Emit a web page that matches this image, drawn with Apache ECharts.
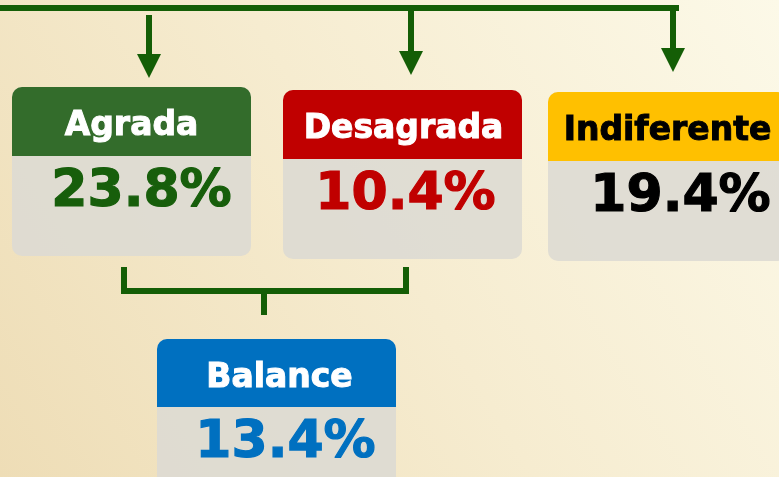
<!DOCTYPE html>
<html>
<head>
<meta charset="utf-8">
<script src="https://cdn.jsdelivr.net/npm/echarts@6/dist/echarts.min.js"></script>
<style>
  html, body { margin: 0; padding: 0; }
  #main { width: 779px; height: 477px; }
</style>
</head>
<body>
<div id="main"></div>
<script>
// data
var categories = ['Agrada', 'Desagrada', 'Indiferente', 'Balance'];
var shares = [23.8, 10.4, 19.4, 13.4];

// look of each card
var headColors = ['#336C2B', '#C00000', '#FFC000', '#0070C0'];
var titleColors = ['#FFFFFF', '#FFFFFF', '#000000', '#FFFFFF'];
var valueColors = ['#175E0B', '#C00000', '#000000', '#0070C0'];

// card placement (x, y, width, header height, body height, text offsets)
var cardLayout = [
  { x: 12, y: 87, w: 239, head: 69, body: 100, tdx: 0, vdx: 10 },
  { x: 283, y: 90, w: 239, head: 69, body: 100, tdx: 1, vdx: 3 },
  { x: 548, y: 92, w: 239, head: 69, body: 100, tdx: 0, vdx: 13 },
  { x: 157, y: 339, w: 239, head: 68, body: 110, tdx: 3, vdx: 9 }
];

// connector drawing: polylines and arrows
var lineGreen = '#145E06';
var connectors = [
  { type: 'line', pts: [[0, 8], [679, 8]] },
  { type: 'arrow', x: 149, y0: 15, y1: 78 },
  { type: 'arrow', x: 411, y0: 8, y1: 75 },
  { type: 'arrow', x: 673, y0: 8, y1: 72 },
  { type: 'line', pts: [[124, 267], [124, 291], [406, 291], [406, 267]] },
  { type: 'line', pts: [[264, 291], [264, 315]] }
];

var chart = echarts.init(document.getElementById('main'));

function renderCard(params, api) {
  var i = api.value(0);
  var L = cardLayout[i];
  var p0 = api.coord([L.x, L.y]);
  var p1 = api.coord([L.x + L.w, L.y + L.head]);
  var p2 = api.coord([L.x + L.w, L.y + L.head + L.body]);
  var w = p1[0] - p0[0];
  var cx = p0[0] + w / 2;
  return {
    type: 'group',
    children: [
      {
        type: 'rect',
        shape: { x: p0[0], y: p0[1], width: w, height: p2[1] - p0[1], r: 10 },
        style: { fill: 'rgba(221,218,211,0.9)' }
      },
      {
        type: 'rect',
        shape: { x: p0[0], y: p0[1], width: w, height: p1[1] - p0[1], r: [10, 10, 0, 0] },
        style: { fill: headColors[i] }
      },
      {
        type: 'text',
        style: {
          text: categories[i],
          x: cx + L.tdx,
          y: (p0[1] + p1[1]) / 2 + 5,
          align: 'center',
          verticalAlign: 'middle',
          fontFamily: 'DejaVu Sans',
          fontWeight: 'bold',
          fontSize: 33,
          fill: titleColors[i],
          stroke: titleColors[i],
          lineWidth: 1
        }
      },
      {
        type: 'text',
        style: {
          text: api.value(1).toFixed(1) + '%',
          x: cx + L.vdx,
          y: p1[1] + 36,
          align: 'center',
          verticalAlign: 'middle',
          fontFamily: 'DejaVu Sans',
          fontWeight: 'bold',
          fontSize: 52,
          fill: valueColors[i],
          stroke: valueColors[i],
          lineWidth: 1.2
        }
      }
    ]
  };
}

function renderConnector(params, api) {
  var c = connectors[api.value(0)];
  if (c.type === 'line') {
    return {
      type: 'polyline',
      shape: { points: c.pts.map(function (p) { return api.coord(p); }) },
      style: { stroke: lineGreen, lineWidth: 6, fill: null, lineJoin: 'miter' }
    };
  }
  var a = api.coord([c.x, c.y0]);
  var b = api.coord([c.x, c.y1]);
  return {
    type: 'group',
    children: [
      {
        type: 'line',
        shape: { x1: a[0], y1: a[1], x2: b[0], y2: b[1] - 20 },
        style: { stroke: lineGreen, lineWidth: 6 }
      },
      {
        type: 'polygon',
        shape: { points: [[b[0] - 12, b[1] - 24], [b[0] + 12, b[1] - 24], [b[0], b[1]]] },
        style: { fill: lineGreen }
      }
    ]
  };
}

var option = {
  animation: false,
  graphic: [{
    type: 'rect',
    z: -10,
    shape: { x: 0, y: 0, width: 779, height: 477 },
    style: {
      fill: new echarts.graphic.LinearGradient(0, 1, 1, 0, [
        { offset: 0, color: '#EEDDB6' },
        { offset: 0.5, color: '#F6ECD0' },
        { offset: 1, color: '#FCF9E8' }
      ])
    }
  }],
  grid: { left: 0, right: 0, top: 0, bottom: 0 },
  xAxis: { type: 'value', min: 0, max: 779, show: false },
  yAxis: { type: 'value', min: 0, max: 477, inverse: true, show: false },
  series: [
    {
      type: 'custom',
      renderItem: renderConnector,
      data: connectors.map(function (c, i) { return [i]; }),
      silent: true
    },
    {
      type: 'custom',
      renderItem: renderCard,
      data: categories.map(function (c, i) { return [i, shares[i]]; })
    }
  ]
};

chart.setOption(option);
</script>
</body>
</html>
